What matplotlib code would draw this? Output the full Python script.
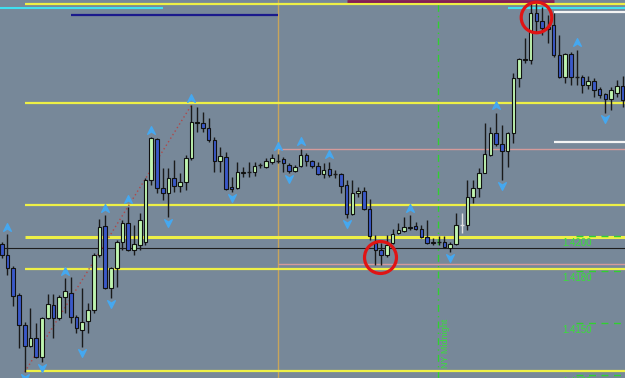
import numpy as np
import matplotlib
matplotlib.use("Agg")
import matplotlib.pyplot as plt
from matplotlib.path import Path
from matplotlib.transforms import ScaledTranslation, blended_transform_factory

# candle data (EURUSD-ish, one bar per slot)
opens = [
    1.41957, 1.41893, 1.41818, 1.41662, 1.41488, 1.41367, 1.41413, 1.41304, 1.41529, 1.41604,
    1.41529, 1.41650, 1.41673, 1.41535, 1.41460, 1.41512, 1.41575, 1.41893, 1.42061, 1.41702,
    1.41818, 1.41968, 1.42078, 1.41922, 1.41951, 1.41968, 1.42327, 1.42564, 1.42280, 1.42251,
    1.42338, 1.42292, 1.42315, 1.42454, 1.42662, 1.42656, 1.42627, 1.42558, 1.42436, 1.42460,
    1.42286, 1.42280, 1.42367, 1.42373, 1.42373, 1.42413, 1.42402, 1.42431, 1.42436, 1.42448,
    1.42413, 1.42379, 1.42408, 1.42471, 1.42436, 1.42408, 1.42361, 1.42390, 1.42361, 1.42361,
    1.42298, 1.42130, 1.42251, 1.42263, 1.42159, 1.41962, 1.41922, 1.41893, 1.41962, 1.42020,
    1.42032, 1.42055, 1.42061, 1.42043, 1.41997, 1.41962, 1.41968, 1.41968, 1.41934, 1.41957,
    1.42066, 1.42066, 1.42228, 1.42280, 1.42367, 1.42471, 1.42598, 1.42535, 1.42494, 1.42598,
    1.42916, 1.43026, 1.43020, 1.43292, 1.43246, 1.43211, 1.43222, 1.43049, 1.42922, 1.43055,
    1.42922, 1.42922, 1.42876, 1.42899, 1.42853, 1.42824, 1.42795, 1.42829, 1.42870]
highs = [
    1.41968, 1.42014, 1.41829, 1.41673, 1.41506, 1.41587, 1.41500, 1.41535, 1.41668, 1.41668,
    1.41662, 1.41760, 1.41766, 1.41546, 1.41702, 1.41616, 1.41905, 1.42101, 1.42124, 1.41824,
    1.41980, 1.42095, 1.42171, 1.42066, 1.42136, 1.42338, 1.42575, 1.42569, 1.42396, 1.42396,
    1.42442, 1.42367, 1.42471, 1.42760, 1.42749, 1.42720, 1.42685, 1.42575, 1.42517, 1.42488,
    1.42344, 1.42431, 1.42402, 1.42431, 1.42431, 1.42425, 1.42454, 1.42477, 1.42477, 1.42460,
    1.42425, 1.42413, 1.42506, 1.42483, 1.42442, 1.42431, 1.42425, 1.42431, 1.42384, 1.42367,
    1.42327, 1.42327, 1.42286, 1.42286, 1.42217, 1.42009, 1.41962, 1.42009, 1.42043, 1.42078,
    1.42113, 1.42124, 1.42084, 1.42066, 1.42095, 1.41991, 1.42003, 1.42003, 1.41968, 1.42136,
    1.42136, 1.42327, 1.42327, 1.42396, 1.42656, 1.42633, 1.42714, 1.42645, 1.42604, 1.42945,
    1.43032, 1.43147, 1.43350, 1.43350, 1.43326, 1.43280, 1.43292, 1.43165, 1.43061, 1.43066,
    1.43078, 1.42934, 1.42928, 1.42916, 1.42864, 1.42829, 1.42864, 1.42905, 1.42928]
lows = [
    1.41876, 1.41777, 1.41598, 1.41356, 1.41217, 1.41361, 1.41298, 1.41275, 1.41523, 1.41413,
    1.41517, 1.41558, 1.41500, 1.41442, 1.41361, 1.41442, 1.41558, 1.41882, 1.41696, 1.41645,
    1.41708, 1.41922, 1.41916, 1.41893, 1.41922, 1.41951, 1.42298, 1.42251, 1.42211, 1.42113,
    1.42257, 1.42257, 1.42269, 1.42442, 1.42604, 1.42604, 1.42546, 1.42373, 1.42373, 1.42269,
    1.42257, 1.42275, 1.42344, 1.42344, 1.42350, 1.42396, 1.42396, 1.42419, 1.42425, 1.42373,
    1.42367, 1.42373, 1.42402, 1.42408, 1.42396, 1.42355, 1.42338, 1.42344, 1.42338, 1.42251,
    1.42107, 1.42124, 1.42228, 1.42153, 1.41980, 1.41835, 1.41835, 1.41882, 1.41957, 1.42014,
    1.42026, 1.42038, 1.42038, 1.41991, 1.41957, 1.41951, 1.41951, 1.41934, 1.41910, 1.41951,
    1.42020, 1.42038, 1.42194, 1.42228, 1.42367, 1.42465, 1.42523, 1.42327, 1.42402, 1.42540,
    1.42864, 1.43003, 1.42997, 1.43176, 1.43165, 1.43118, 1.43038, 1.42916, 1.42887, 1.42876,
    1.42876, 1.42829, 1.42853, 1.42806, 1.42801, 1.42714, 1.42731, 1.42806, 1.42749]
closes = [
    1.41893, 1.41818, 1.41656, 1.41488, 1.41367, 1.41413, 1.41304, 1.41529, 1.41610, 1.41529,
    1.41650, 1.41685, 1.41535, 1.41471, 1.41506, 1.41575, 1.41893, 1.42055, 1.41702, 1.41818,
    1.41968, 1.42078, 1.41922, 1.41957, 1.42095, 1.42327, 1.42569, 1.42280, 1.42251, 1.42338,
    1.42292, 1.42315, 1.42454, 1.42662, 1.42656, 1.42627, 1.42558, 1.42436, 1.42465, 1.42275,
    1.42275, 1.42373, 1.42373, 1.42373, 1.42408, 1.42413, 1.42436, 1.42454, 1.42436, 1.42425,
    1.42379, 1.42402, 1.42471, 1.42436, 1.42408, 1.42361, 1.42384, 1.42355, 1.42361, 1.42292,
    1.42130, 1.42251, 1.42263, 1.42159, 1.42003, 1.41922, 1.41893, 1.41951, 1.42014, 1.42038,
    1.42055, 1.42049, 1.42043, 1.41997, 1.41962, 1.41968, 1.41968, 1.41939, 1.41957, 1.42066,
    1.42066, 1.42228, 1.42280, 1.42367, 1.42477, 1.42598, 1.42535, 1.42494, 1.42598, 1.42916,
    1.43026, 1.43020, 1.43292, 1.43246, 1.43205, 1.43199, 1.43049, 1.42922, 1.43055, 1.42922,
    1.42922, 1.42876, 1.42899, 1.42847, 1.42818, 1.42795, 1.42847, 1.42870, 1.42789]

# support / resistance and other drawn objects
yellow_levels = [1.43344, 1.42769, 1.42182, 1.41997, 1.41812, 1.41223]
yellow_start = 4
round_levels = [1.4200, 1.4180, 1.4150, 1.4120]
round_labels = ["1.4200", "1.4180", "1.4150", "1.4120"]
fractal_up = [1, 11, 18, 22, 26, 33, 48, 52, 57, 71, 86, 100]
fractal_down = [4, 7, 14, 19, 29, 40, 50, 60, 78, 87, 105]
session_bar = 48
midnight_bar = 76
zigzag = (4, 33)
circles = [(92.9, 1.43266), (65.8, 1.41882)]

n = len(opens)
x = np.arange(n)
o = np.array(opens); h = np.array(highs); l = np.array(lows); c = np.array(closes)

fig = plt.figure(figsize=(6.25, 3.78), dpi=100)
ax = fig.add_axes([0, 0, 1, 1])
ax.set_facecolor("#778899")
ax.set_xlim(-0.3, 108.4)
ax.set_ylim(1.41182, 1.43367)
ax.set_xticks([]); ax.set_yticks([])
for s in ax.spines.values():
    s.set_visible(False)

# vertical markers
ax.axvline(midnight_bar - 0.1, color="#30d030", lw=1, ls=(0, (5, 3, 1, 3)), zorder=1)
ax.axvline(session_bar, color="#c8a55a", lw=1, zorder=1)
ax.text(midnight_bar + 1.2, 1.41240, "NY Midnight", rotation=90, color="#38e038",
        fontsize=6.5, ha="center", va="bottom", family="Liberation Sans", zorder=3)

# horizontal objects
ax.axhline(1.41936, color="#1c1c1c", lw=0.8, zorder=1)
ax.hlines([1.42506, 1.41841], session_bar, 110, color="#d69a9a", lw=1, zorder=1)
ax.hlines(1.43321, -1, 28, color="#40e0f0", lw=1.5, zorder=2)
ax.hlines(1.43321, 88, 110, color="#40e0f0", lw=1.5, zorder=2)
ax.hlines(1.43280, 12, session_bar, color="#1a1a8c", lw=1.6, zorder=2)
ax.hlines(1.43364, 60, 96, color="#8a1c50", lw=2, zorder=3)
ax.hlines([1.43298, 1.42546], 96, 110, color="#f4f4f4", lw=1.6, zorder=2)
for lv in yellow_levels:
    ax.hlines(lv, yellow_start, 110, color="#eef046",
              lw=2.2 if abs(lv - 1.42) < 1e-4 else 1.6, zorder=2)

# round number levels on the right
tx = blended_transform_factory(ax.transAxes, ax.transData)
for lv, lab in zip(round_levels, round_labels):
    ax.plot([0.922, 1.0], [lv, lv], transform=tx, color="#30d030", lw=1,
            ls=(0, (5, 4)), zorder=3)
    ax.text(0.9, lv, lab, transform=tx + ScaledTranslation(0, -0.02, fig.dpi_scale_trans),
            color="#38e038", fontsize=7, ha="left", va="top", family="Liberation Sans",
            zorder=3)

# zigzag dotted line
ax.plot([zigzag[0], zigzag[1]], [l[zigzag[0]], h[zigzag[1]]], color="#b04848",
        lw=1, ls=(0, (1, 2)), zorder=3)

# candles
wick_col = ["#1a1a1a"] * n
wick_col[80] = "#e0e0e0"
ax.vlines(x, l, h, colors=wick_col, lw=1, zorder=4)
doji = np.abs(c - o) < 2e-5
up = (c > o) & ~doji
dn = (c < o) & ~doji
ax.bar(x[up], (c - o)[up], bottom=o[up], width=0.62, color="#bff5b0",
       edgecolor="#111111", lw=0.8, zorder=5)
ax.bar(x[dn], (o - c)[dn], bottom=c[dn], width=0.62, color="#3a58c8",
       edgecolor="#111111", lw=0.8, zorder=5)
dj_col = ["#e0e0e0" if i == 80 else "#1a1a1a" for i in x[doji]]
ax.hlines(c[doji], x[doji] - 0.35, x[doji] + 0.35, colors=dj_col, lw=1, zorder=5)

# fractal arrows
arrow_up = Path([(0, 1), (1, -1), (0, -0.35), (-1, -1), (0, 1)],
                [Path.MOVETO, Path.LINETO, Path.LINETO, Path.LINETO, Path.CLOSEPOLY])
arrow_dn = Path([(0, -1), (1, 1), (0, 0.35), (-1, 1), (0, -1)],
                [Path.MOVETO, Path.LINETO, Path.LINETO, Path.LINETO, Path.CLOSEPOLY])
up_tr = ax.transData + ScaledTranslation(0, 0.075, fig.dpi_scale_trans)
dn_tr = ax.transData + ScaledTranslation(0, -0.06, fig.dpi_scale_trans)
ax.plot(fractal_up, h[fractal_up], ls="none", marker=arrow_up, ms=5.5,
        color="#45a8f0", transform=up_tr, zorder=6)
ax.plot(fractal_down, l[fractal_down], ls="none", marker=arrow_dn, ms=5.5,
        color="#45a8f0", transform=dn_tr, zorder=6)

# red circles
for (cx, cy), ms in zip(circles, [22, 23]):
    ax.plot(cx, cy, "o", ms=ms, mfc="none", mec="#e01414", mew=2.3, zorder=7)

fig.savefig("out.png", dpi=100, facecolor="#778899")
